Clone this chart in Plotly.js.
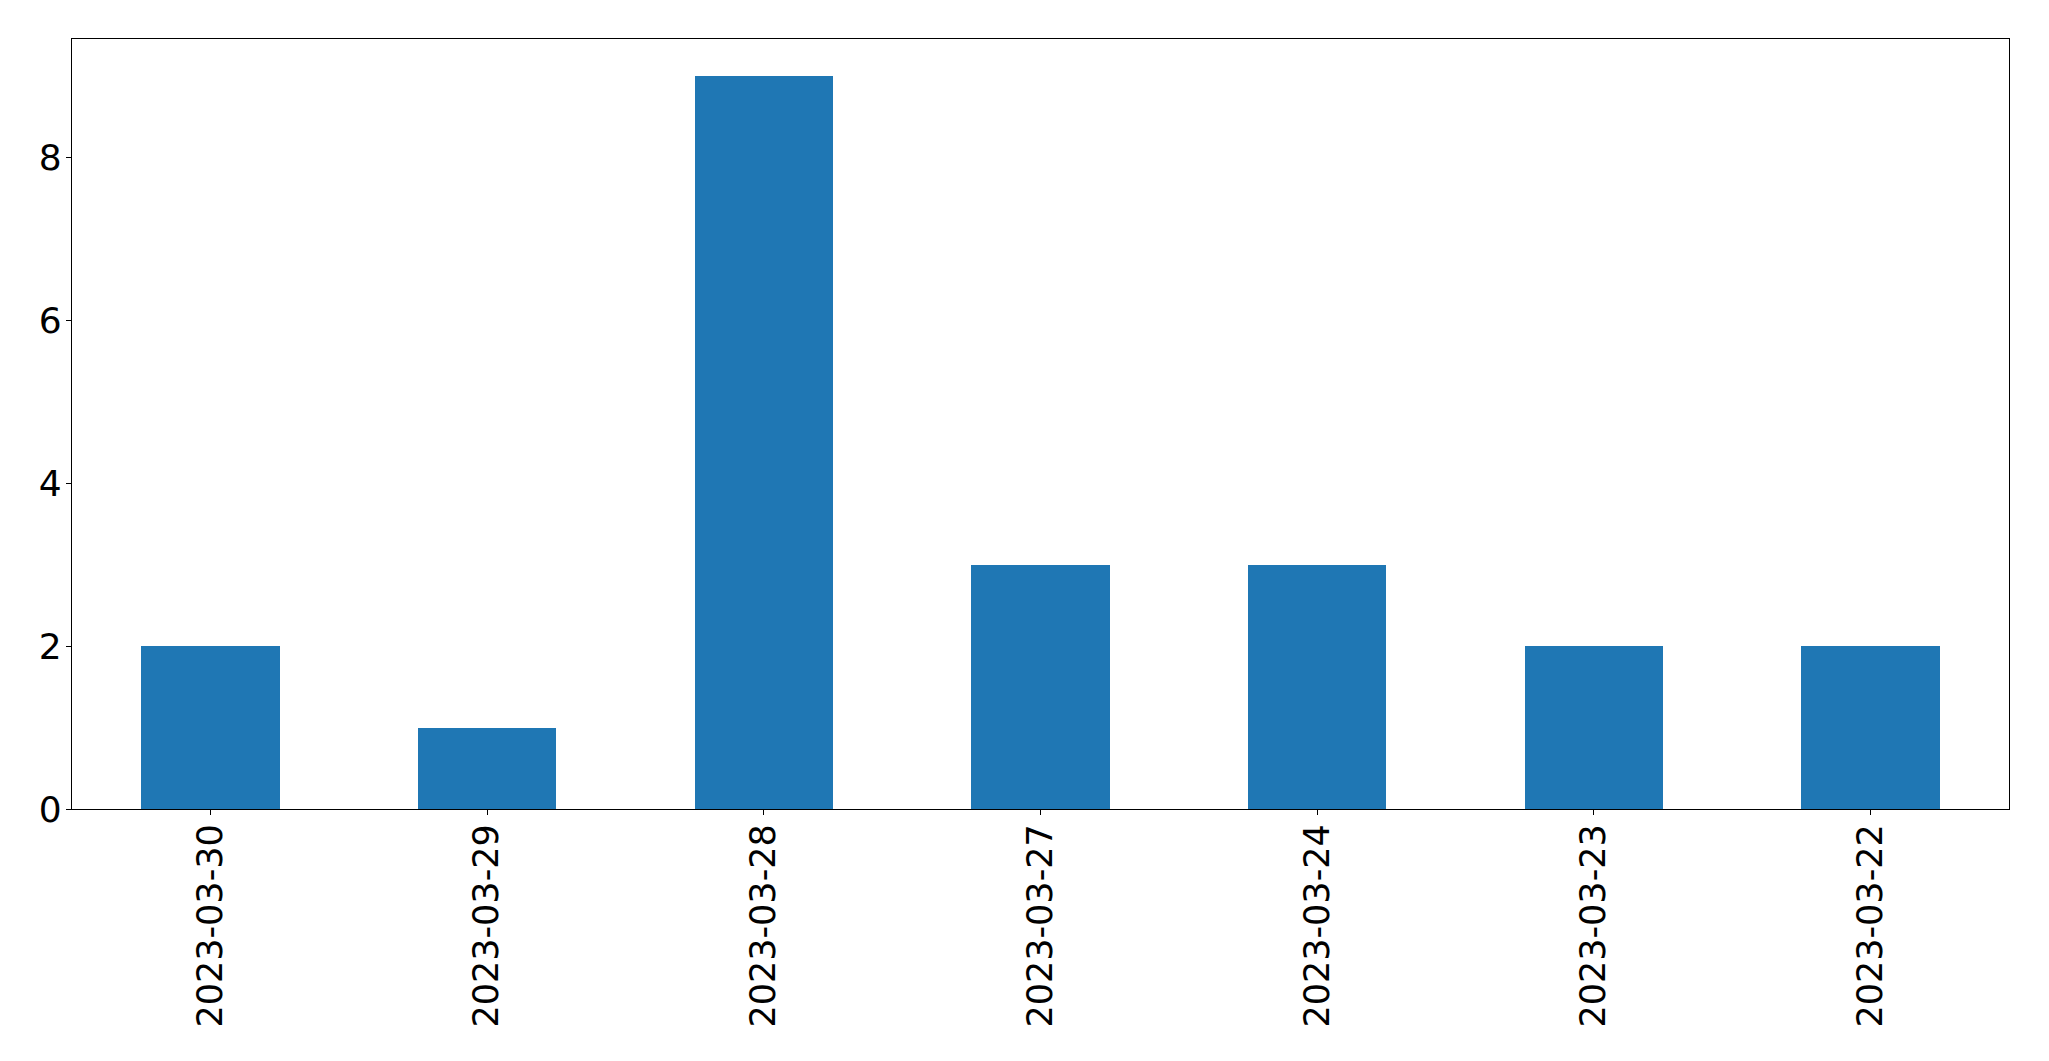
<!DOCTYPE html>
<html>
<head>
<meta charset="utf-8">
<script src="https://cdn.plot.ly/plotly-3.0.1.min.js"></script>
<style>html,body{margin:0;padding:0;background:#fff;}#chart{width:2049px;height:1061px;}</style>
</head>
<body>
<div id="chart"></div>
<script>
const dates = ["2023-03-30","2023-03-29","2023-03-28","2023-03-27","2023-03-24","2023-03-23","2023-03-22"];
const counts = [2, 1, 9, 3, 3, 2, 2];
const yTicks = [0, 2, 4, 6, 8];

const trace = {
  type: "bar",
  x: dates,
  y: counts,
  width: 0.5,
  marker: {color: "#1f77b4", line: {width: 0}},
  hoverinfo: "x+y"
};

const layout = {
  width: 2049,
  height: 1061,
  margin: {l: 72, r: 40, t: 39, b: 252, pad: 0},
  paper_bgcolor: "#ffffff",
  plot_bgcolor: "#ffffff",
  showlegend: false,
  font: {family: "DejaVu Sans", color: "#000000"},
  bargap: 0,
  xaxis: {
    type: "category",
    range: [-0.5, 6.5],
    showgrid: false,
    zeroline: false,
    showline: true,
    mirror: true,
    linecolor: "#000000",
    linewidth: 1.2,
    ticks: "outside",
    ticklen: 5,
    tickwidth: 1,
    tickcolor: "#000000",
    tickangle: -90,
    ticklabelstandoff: -5,
    tickfont: {family: "DejaVu Sans", size: 35, color: "#000000"},
    automargin: false
  },
  yaxis: {
    range: [0, 9.45],
    tickvals: yTicks,
    ticktext: yTicks.map(String),
    showgrid: false,
    zeroline: false,
    showline: true,
    mirror: true,
    linecolor: "#000000",
    linewidth: 1.2,
    ticks: "outside",
    ticklen: 5,
    tickwidth: 1,
    tickcolor: "#000000",
    ticklabelstandoff: -3,
    tickfont: {family: "DejaVu Sans", size: 36, color: "#000000"},
    automargin: false
  }
};

Plotly.newPlot("chart", [trace], layout, {displayModeBar: false, staticPlot: true});
</script>
</body>
</html>
